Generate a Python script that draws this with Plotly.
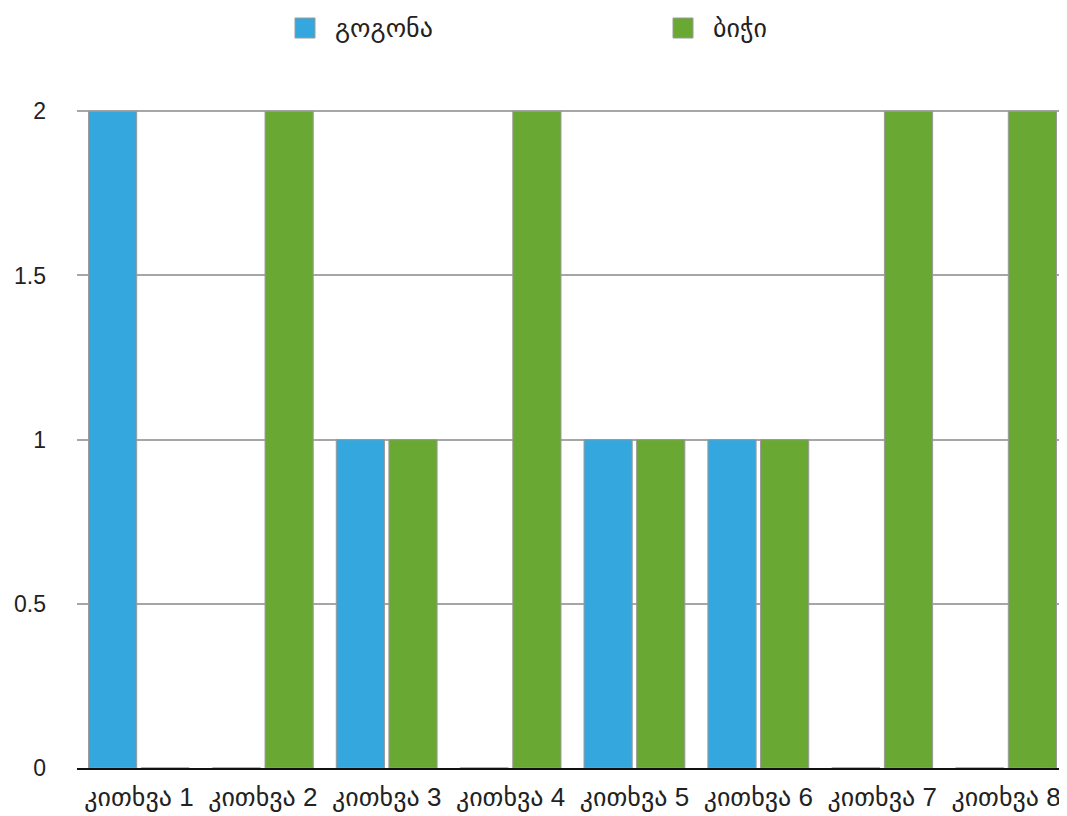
import plotly.graph_objects as go

categories = ["კითხვა 1", "კითხვა 2", "კითხვა 3", "კითხვა 4",
              "კითხვა 5", "კითხვა 6", "კითხვა 7", "კითხვა 8"]
series_names = ["გოგონა", "ბიჭი"]
girl_values = [2, 0, 1, 0, 1, 1, 0, 0]
boy_values = [0, 2, 1, 2, 1, 1, 2, 2]
y_ticks = [0, 0.5, 1, 1.5, 2]
y_tick_labels = ["0", "0.5", "1", "1.5", "2"]

colors = ["#34a8de", "#68a833"]
FONT = "Liberation Sans, Arial, DejaVu Sans, sans-serif"

fig = go.Figure()
for name, vals, col in zip(series_names, [girl_values, boy_values], colors):
    fig.add_trace(go.Bar(
        x=categories, y=vals, name=name,
        marker=dict(color=col, line=dict(color="#9a9a9a", width=1)),
        showlegend=False,
    ))

# page has an 8px body margin; figure coords = screen coords - 8
OFF = 8
W, H = 1068 - OFF, 816 - OFF
L, R, T, B = 77 - OFF, 0, 110 - OFF, 48
pw, ph = W - L - R, H - T - B

def px_x(sx):
    return (sx - OFF - L) / pw

def px_y(sy):
    return (H - B - (sy - OFF)) / ph

legend_x_px = [295, 673]
for name, col, lx in zip(series_names, colors, legend_x_px):
    fig.add_shape(type="rect", xref="paper", yref="paper",
                  x0=px_x(lx), x1=px_x(lx + 20), y0=px_y(38), y1=px_y(18),
                  fillcolor=col, line=dict(color="#9a9a9a", width=1))
    fig.add_annotation(xref="paper", yref="paper",
                       x=px_x(lx + 38), y=px_y(28), showarrow=False,
                       xanchor="left", yanchor="middle",
                       text=name, font=dict(family=FONT, size=26, color="#222"))

fig.update_layout(
    width=W, height=H,
    margin=dict(l=L, r=R, t=T, b=B, autoexpand=False),
    paper_bgcolor="white", plot_bgcolor="white",
    barmode="group", bargap=0.15, bargroupgap=0.085,
    font=dict(family=FONT, size=20, color="#222"),
    xaxis=dict(showgrid=False, showline=True, linecolor="#111", linewidth=2,
               ticks="", tickfont=dict(size=26), tickangle=0,
               ticklabelstandoff=5, automargin=False),
    yaxis=dict(range=[0, 2.004], tickvals=y_ticks, ticktext=y_tick_labels,
               showgrid=True, gridcolor="#a6a6a6", gridwidth=2,
               zeroline=False, showline=False, ticks="",
               ticklabelstandoff=30, tickfont=dict(size=23), automargin=False),
)

fig.write_html("out.html")
